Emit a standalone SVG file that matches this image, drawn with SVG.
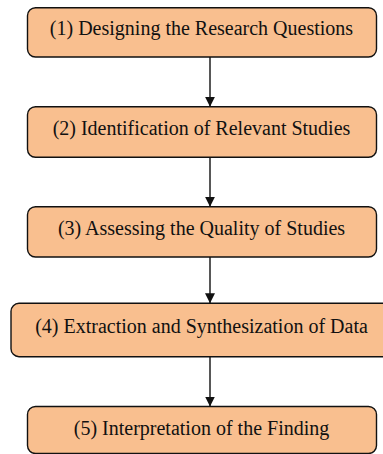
<svg xmlns="http://www.w3.org/2000/svg" width="383" height="454" viewBox="0 0 383 454">
  <style>
    .box { fill: #F9BF8F; stroke: #111; stroke-width: 1.4; }
    .lbl { font-family: "Liberation Serif", "Times New Roman", serif; font-size: 20px; fill: #111; text-anchor: middle; }
    .edge { stroke: #111; stroke-width: 1.4; fill: none; marker-end: url(#arrow); }
  </style>
  <defs>
    <marker id="arrow" markerWidth="10" markerHeight="10" refX="10" refY="5" orient="auto" markerUnits="userSpaceOnUse">
      <path d="M0,0 L10,5 L0,10 Z" fill="#111"/>
    </marker>
  </defs>
  <rect width="383" height="454" fill="#fff"/>

  <g id="connectors">
    <line class="edge" x1="210" y1="57" x2="210" y2="106.7"/>
    <line class="edge" x1="210" y1="157.3" x2="210" y2="206.7"/>
    <line class="edge" x1="210" y1="257" x2="210" y2="303.3"/>
    <line class="edge" x1="210" y1="356.7" x2="210" y2="406.5"/>
  </g>

  <g id="step1">
    <rect class="box" x="27.5" y="7.7" width="349" height="49.3" rx="8"/>
    <text class="lbl" x="201.5" y="35">(1) Designing the Research Questions</text>
  </g>
  <g id="step2">
    <rect class="box" x="27.5" y="106.7" width="349" height="50.6" rx="8"/>
    <text class="lbl" x="201.5" y="135">(2) Identification of Relevant Studies</text>
  </g>
  <g id="step3">
    <rect class="box" x="27.5" y="206.7" width="349" height="50.3" rx="8"/>
    <text class="lbl" x="201.5" y="235">(3) Assessing the Quality of Studies</text>
  </g>
  <g id="step4">
    <rect class="box" x="11" y="303.3" width="381" height="53.4" rx="8"/>
    <text class="lbl" x="201.5" y="332.7">(4) Extraction and Synthesization of Data</text>
  </g>
  <g id="step5">
    <rect class="box" x="27.5" y="406.5" width="349" height="47" rx="8"/>
    <text class="lbl" x="201.5" y="435">(5) Interpretation of the Finding</text>
  </g>
</svg>
